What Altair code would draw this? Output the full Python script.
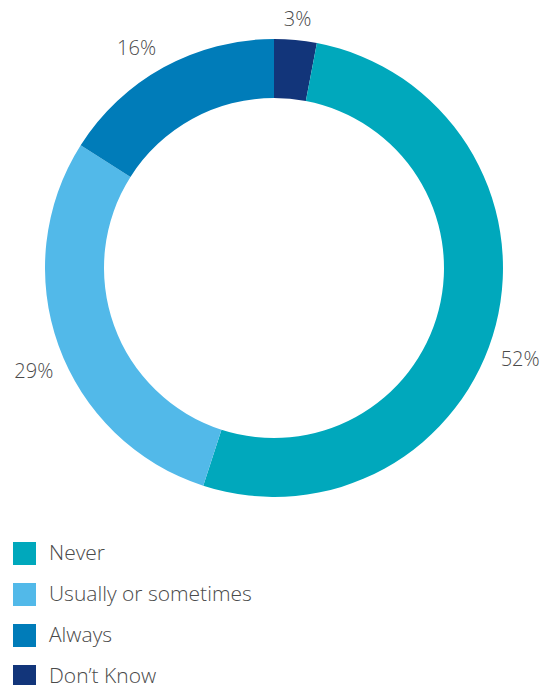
import altair as alt
import pandas as pd

categories = ["Don\u2019t Know", "Never", "Usually or sometimes", "Always"]
values = [3, 52, 29, 16]
labels = ["3%", "52%", "29%", "16%"]
legend_order = ["Never", "Usually or sometimes", "Always", "Don\u2019t Know"]
colors = ["#00A8BC", "#52B9E9", "#007CB9", "#12357A"]

df = pd.DataFrame({
    "category": categories,
    "value": values,
    "label": labels,
    "order": list(range(len(categories))),
})

CX, CY = 274, 268
FONT = "Open Sans"
TXT = "#4a4a4a"

base = alt.Chart(df).encode(
    theta=alt.Theta("value:Q", stack=True),
    order=alt.Order("order:Q"),
)

arc = base.mark_arc(outerRadius=229, innerRadius=170).encode(
    x=alt.value(CX),
    y=alt.value(CY),
    color=alt.Color(
        "category:N",
        scale=alt.Scale(domain=legend_order, range=colors),
        legend=alt.Legend(
            title=None,
            orient="none",
            legendX=13,
            legendY=542,
            symbolType="square",
            symbolSize=529,
            symbolStrokeWidth=0,
            symbolOpacity=1,
            labelFontSize=21,
            labelFont=FONT,
            labelFontWeight=300,
            labelColor=TXT,
            labelOffset=13,
            rowPadding=18,
            labelLimit=400,
        ),
    ),
)

offsets = {"3%": (0, 1), "52%": (4, 30), "29%": (-5, 19), "16%": (-17, 0)}
text_layers = []
for lab, (dx, dy) in offsets.items():
    text_layers.append(
        base.mark_text(
            radius=250, fontSize=20, font=FONT, fontWeight=300, color=TXT,
            dx=dx, dy=dy, align="center", baseline="middle",
        ).encode(
            x=alt.value(CX),
            y=alt.value(CY),
            text="label:N",
            opacity=alt.condition(alt.datum.label == lab, alt.value(1), alt.value(0)),
        )
    )

chart = alt.layer(arc, *text_layers).properties(
    width=544,
    height=685,
    autosize=alt.AutoSizeParams(type="none"),
    padding=0,
).configure_view(stroke=None)

chart.save("out.html", embed_options={"renderer": "svg", "actions": False})
